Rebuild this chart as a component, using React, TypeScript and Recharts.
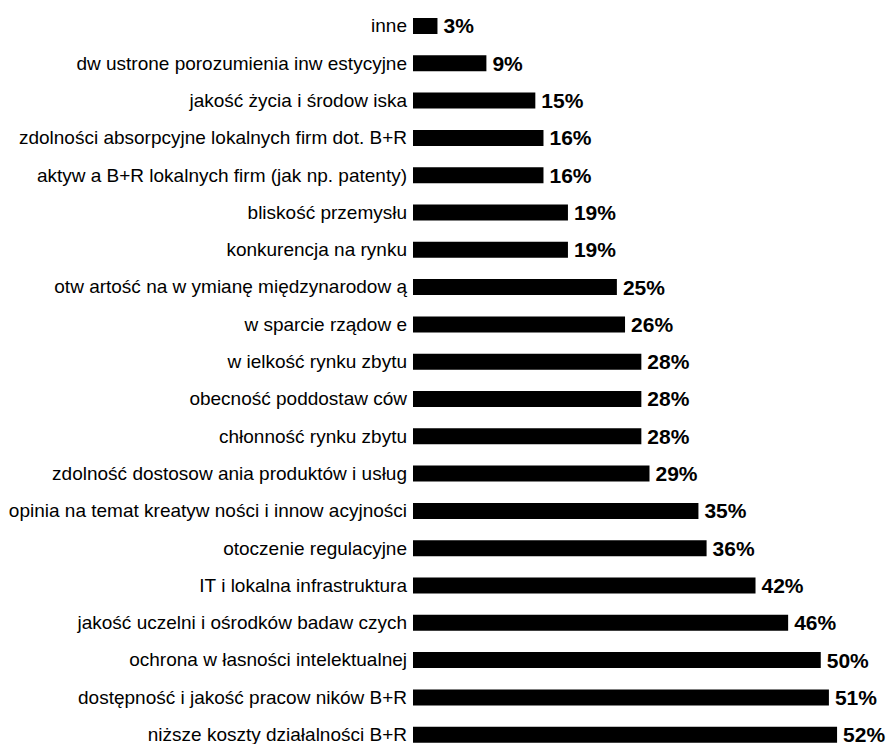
import React from "react";
import { BarChart, Bar, XAxis, YAxis, LabelList } from "recharts";

const categories: string[] = [
  "inne",
  "dw ustrone porozumienia inw estycyjne",
  "jakość życia i środow iska",
  "zdolności absorpcyjne lokalnych firm dot. B+R",
  "aktyw a B+R lokalnych firm (jak np. patenty)",
  "bliskość przemysłu",
  "konkurencja na rynku",
  "otw artość na w ymianę międzynarodow ą",
  "w sparcie rządow e",
  "w ielkość rynku zbytu",
  "obecność poddostaw ców",
  "chłonność rynku zbytu",
  "zdolność dostosow ania produktów  i usług",
  "opinia na temat kreatyw ności i innow acyjności",
  "otoczenie regulacyjne",
  "IT i lokalna infrastruktura",
  "jakość uczelni i ośrodków  badaw czych",
  "ochrona w łasności intelektualnej",
  "dostępność i jakość pracow ników  B+R",
  "niższe koszty działalności B+R",
];

const values: number[] = [3, 9, 15, 16, 16, 19, 19, 25, 26, 28, 28, 28, 29, 35, 36, 42, 46, 50, 51, 52];

const data = categories.map((name, i) => ({ name, value: values[i] }));

const FONT = "'Liberation Sans', Arial, sans-serif";

export default function App() {
  return (
    <div style={{ position: "absolute", left: 0, top: 0, width: 889, height: 744, overflow: "hidden", background: "#fff" }}>
      <BarChart
        width={889}
        height={760}
        data={data}
        layout="vertical"
        margin={{ top: 7, right: 3, bottom: 7, left: 0 }}
        barSize={16}
      >
        <XAxis type="number" domain={[0, 58]} hide />
        <YAxis
          type="category"
          dataKey="name"
          width={413}
          axisLine={false}
          tickLine={false}
          tickSize={6}
          tickMargin={0}
          interval={0}
          tick={{ fontSize: 19, fill: "#000", fontFamily: FONT }}
        />
        <Bar dataKey="value" fill="#000" isAnimationActive={false}>
          <LabelList
            dataKey="value"
            position="right"
            offset={6}
            formatter={(v: any) => `${v}%`}
            style={{ fontSize: 21, fontWeight: "bold", fill: "#000", fontFamily: FONT }}
          />
        </Bar>
      </BarChart>
    </div>
  );
}
